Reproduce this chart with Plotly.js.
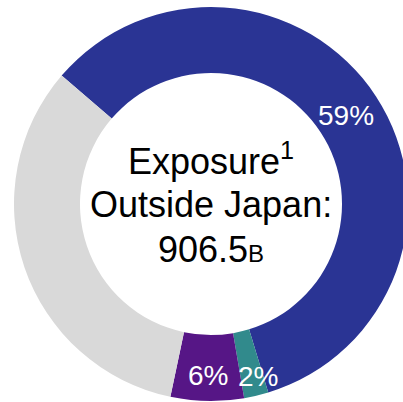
<!DOCTYPE html>
<html>
<head>
<meta charset="utf-8">
<script src="https://cdn.plot.ly/plotly-3.0.1.min.js"></script>
<style>
  html, body { margin: 0; padding: 0; overflow: hidden; background: #fff; }
</style>
</head>
<body>
<div id="myPlot"></div>
<script>
// Exposure outside Japan, share by region
const regions = ["Region A", "Region B", "Region C", "Other"];
const shares = [59, 2, 6, 33];
const labelText = ["59%", "2%", "6%", ""];
const sliceColors = ["#2a3494", "#318a8c", "#561686", "#d9d9d9"];
const centerLines = ["Exposure<sup>1</sup>", "Outside Japan:", "906.5<span style='font-size:24px'>B</span>"];

const startAngle = -49.3;
const fontFamily = "Arial, Liberation Sans, sans-serif";

const trace = {
  type: "pie",
  labels: regions,
  values: shares,
  textinfo: "none",
  hole: 0.665,
  sort: false,
  direction: "clockwise",
  rotation: startAngle,
  marker: { colors: sliceColors, line: { width: 0 } },
  hoverinfo: "none",
};

const data = [trace];

// percent labels sit on the ring at each slice's middle angle
// (small slices get pushed out / nudged so they don't crowd their neighbour)
const total = shares.reduce((a, b) => a + b, 0);
let cum = 0;
const labelAnnotations = [];
shares.forEach((v, i) => {
  const mid = (startAngle + ((cum + v / 2) / total) * 360) * Math.PI / 180;
  cum += v;
  if (!labelText[i]) return;
  const rf = v > 30 ? 0.82 : v < 3 ? 0.9 : 0.87;
  labelAnnotations.push({
    text: labelText[i],
    x: 0.5 + 0.5 * rf * Math.sin(mid),
    y: 0.5 + 0.5 * rf * Math.cos(mid),
    xref: "paper",
    yref: "paper",
    xanchor: "center",
    yanchor: "middle",
    xshift: v < 3 ? 6 : 0,
    showarrow: false,
    font: { family: fontFamily, size: 28, color: "#ffffff" },
  });
});

// centre text, one annotation per line for tighter spacing
const centerAnnotations = centerLines.map((line, i) => ({
  text: line,
  x: 0.5,
  y: 0.5,
  xref: "paper",
  yref: "paper",
  xanchor: "center",
  yanchor: "middle",
  yshift: (1 - i) * 45,
  showarrow: false,
  font: { family: fontFamily, size: 36, color: "#000000" },
}));

const layout = {
  width: 408,
  height: 402,
  margin: { l: 14, r: 0, t: 7, b: 1 },
  showlegend: false,
  paper_bgcolor: "#ffffff",
  annotations: centerAnnotations.concat(labelAnnotations),
};

var config = { staticPlot: true };

Plotly.newPlot("myPlot", data, layout, config);
</script>
</body>
</html>
